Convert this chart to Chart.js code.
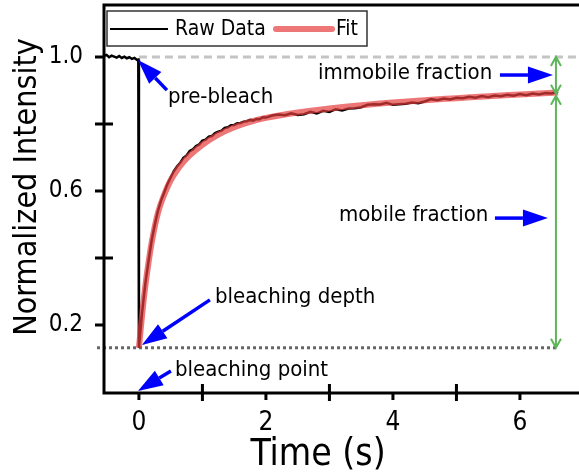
<!DOCTYPE html>
<html>
<head>
<meta charset="utf-8">
<script src="https://cdn.jsdelivr.net/npm/chart.js"></script>
<style>
  html, body { margin: 0; padding: 0; background: #fff; }
  canvas { display: block; }
</style>
</head>
<body>
<canvas id="frapChart" width="579" height="473"></canvas>
<script>
// FRAP recovery curve
const rawTime = [-0.55, -0.51, -0.47, -0.43, -0.39, -0.35, -0.31, -0.27, -0.23, -0.19, -0.15, -0.11, -0.07, -0.03, -0.01,
  0, 0.05, 0.1, 0.15, 0.2, 0.25, 0.3, 0.35, 0.4, 0.45, 0.5, 0.55, 0.6, 0.65, 0.7, 0.75, 0.8, 0.85, 0.9, 0.95,
  1.0, 1.05, 1.1, 1.15, 1.2, 1.25, 1.3, 1.35, 1.4, 1.45, 1.5, 1.55, 1.6, 1.65, 1.7, 1.75, 1.8, 1.85, 1.9, 1.95,
  2.0, 2.1, 2.2, 2.3, 2.4, 2.5, 2.6, 2.7, 2.8, 2.9, 3.0, 3.1, 3.2, 3.3, 3.4, 3.5, 3.6, 3.7, 3.8, 3.9,
  4.0, 4.1, 4.2, 4.3, 4.4, 4.5, 4.6, 4.7, 4.8, 4.9, 5.0, 5.1, 5.2, 5.3, 5.4, 5.5, 5.6, 5.7, 5.8, 5.9,
  6.0, 6.1, 6.2, 6.3, 6.4, 6.5, 6.6];
const rawIntensity = [1.003, 1.006, 0.999, 1.004, 1.001, 0.998, 1.003, 0.997, 1.001, 0.996, 0.999, 0.994, 0.997, 0.991, 0.992,
  0.132, 0.238, 0.322, 0.389, 0.452, 0.499, 0.541, 0.572, 0.596, 0.621, 0.640, 0.659, 0.673, 0.684, 0.699, 0.706, 0.719, 0.724, 0.734, 0.739,
  0.750, 0.753, 0.762, 0.764, 0.773, 0.777, 0.780, 0.788, 0.790, 0.796, 0.797, 0.802, 0.803, 0.807, 0.808, 0.812, 0.810, 0.815, 0.814, 0.820,
  0.819, 0.825, 0.828, 0.826, 0.832, 0.827, 0.829, 0.836, 0.831, 0.839, 0.836, 0.844, 0.840, 0.846, 0.847, 0.850, 0.857, 0.859, 0.858, 0.863,
  0.857, 0.859, 0.860, 0.864, 0.862, 0.867, 0.874, 0.871, 0.876, 0.873, 0.878, 0.877, 0.881, 0.878, 0.883, 0.880, 0.885, 0.883, 0.887, 0.884,
  0.889, 0.886, 0.891, 0.888, 0.892, 0.891, 0.897];

const fitTime = [0, 0.05, 0.1, 0.15, 0.2, 0.3, 0.4, 0.5, 0.6, 0.7, 0.8, 1.0, 1.25, 1.5, 1.75, 2.0, 2.5, 3.0, 3.5, 4.0, 4.5, 5.0, 5.5, 6.0, 6.6];
const fitIntensity = [0.132, 0.230, 0.315, 0.385, 0.445, 0.535, 0.590, 0.632, 0.662, 0.686, 0.706, 0.738, 0.768, 0.790, 0.806, 0.818, 0.834, 0.846, 0.856, 0.864, 0.871, 0.877, 0.883, 0.888, 0.894];

const xTicks = [0, 2, 4, 6];
const xMinorTicks = [1, 3, 5];
const yTicks = [0.2, 0.6, 1.0];
const yMinorTicks = [0.4, 0.8];

const preBleachLevel = 1.0;
const bleachLevel = 0.132;
const plateauLevel = 0.893;
const arrowTime = 6.567;

const FONT = '"DejaVu Sans Condensed", sans-serif';
const FIT_COLOR = 'rgba(230, 60, 60, 0.7)';
const BLUE = '#0000ff';
const GREEN = '#5db65a';

const notes = [
  { text: 'pre-bleach', x: 0.457, y: 0.881, from: [0.441, 0.901], to: [-0.016, 0.991] },
  { text: 'bleaching depth', x: 1.197, y: 0.284, from: [1.118, 0.275], to: [0.047, 0.140] },
  { text: 'bleaching point', x: 0.567, y: 0.066, from: [0.504, 0.063], to: [-0.016, 0.003] },
  { text: 'immobile fraction', x: 2.82, y: 0.952, from: [5.685, 0.946], to: [6.52, 0.946] },
  { text: 'mobile fraction', x: 3.15, y: 0.528, from: [5.606, 0.519], to: [6.441, 0.519] }
];

function blueArrow(ctx, x1, y1, x2, y2) {
  const a = Math.atan2(y2 - y1, x2 - x1);
  const len = 25, hw = 8.5;
  const bx = x2 - len * Math.cos(a), by = y2 - len * Math.sin(a);
  ctx.strokeStyle = BLUE;
  ctx.fillStyle = BLUE;
  ctx.lineWidth = 3.5;
  ctx.beginPath();
  ctx.moveTo(x1, y1);
  ctx.lineTo(bx, by);
  ctx.stroke();
  ctx.beginPath();
  ctx.moveTo(x2, y2);
  ctx.lineTo(bx + hw * Math.sin(a), by - hw * Math.cos(a));
  ctx.lineTo(bx - hw * Math.sin(a), by + hw * Math.cos(a));
  ctx.closePath();
  ctx.fill();
}

function greenDoubleArrow(ctx, x, yTop, yBot) {
  ctx.strokeStyle = GREEN;
  ctx.lineWidth = 2;
  ctx.beginPath();
  ctx.moveTo(x, yTop);
  ctx.lineTo(x, yBot);
  ctx.moveTo(x - 5, yTop + 9);
  ctx.lineTo(x, yTop);
  ctx.lineTo(x + 5, yTop + 9);
  ctx.moveTo(x - 5, yBot - 9);
  ctx.lineTo(x, yBot);
  ctx.lineTo(x + 5, yBot - 9);
  ctx.stroke();
}

const decorations = {
  id: 'decorations',
  beforeDatasetsDraw(chart) {
    const { ctx, chartArea, scales: { x, y } } = chart;
    ctx.save();
    // pre-bleach level
    ctx.strokeStyle = '#c4c4c4';
    ctx.lineWidth = 3;
    ctx.setLineDash([8, 5]);
    ctx.beginPath();
    ctx.moveTo(x.getPixelForValue(0), y.getPixelForValue(preBleachLevel));
    ctx.lineTo(chartArea.right, y.getPixelForValue(preBleachLevel));
    ctx.stroke();
    // bleaching point level
    ctx.strokeStyle = '#666';
    ctx.lineWidth = 3;
    ctx.setLineDash([3, 3]);
    ctx.beginPath();
    ctx.moveTo(x.getPixelForValue(-0.66), y.getPixelForValue(bleachLevel));
    ctx.lineTo(x.getPixelForValue(arrowTime), y.getPixelForValue(bleachLevel));
    ctx.stroke();
    ctx.restore();
  },
  afterDatasetsDraw(chart) {
    const { ctx, chartArea, scales: { x, y } } = chart;
    const { left, right, top, bottom } = chartArea;
    ctx.save();

    // frame and axes
    ctx.strokeStyle = '#000';
    ctx.lineWidth = 3;
    ctx.beginPath();
    ctx.moveTo(right, top - 1);
    ctx.lineTo(left, top - 1);
    ctx.lineTo(left, bottom + 1);
    ctx.lineTo(right, bottom + 1);
    ctx.stroke();

    // ticks
    ctx.beginPath();
    xTicks.forEach(v => {
      const px = x.getPixelForValue(v);
      ctx.moveTo(px, bottom);
      ctx.lineTo(px, bottom + 8);
    });
    xMinorTicks.forEach(v => {
      const px = x.getPixelForValue(v);
      ctx.moveTo(px, bottom - 8);
      ctx.lineTo(px, bottom + 9);
    });
    yTicks.forEach(v => {
      const py = y.getPixelForValue(v);
      ctx.moveTo(left - 9, py);
      ctx.lineTo(left, py);
    });
    yMinorTicks.forEach(v => {
      const py = y.getPixelForValue(v);
      ctx.moveTo(left - 9, py);
      ctx.lineTo(left + 9, py);
    });
    ctx.stroke();

    // legend
    const lx = left + 3, ly = top + 5;
    ctx.fillStyle = '#fff';
    ctx.fillRect(lx, ly, 260, 35);
    ctx.strokeStyle = '#333';
    ctx.lineWidth = 1.5;
    ctx.strokeRect(lx, ly, 260, 35);
    ctx.strokeStyle = '#000';
    ctx.lineWidth = 2;
    ctx.beginPath();
    ctx.moveTo(lx + 3, ly + 18);
    ctx.lineTo(lx + 61, ly + 18);
    ctx.stroke();
    ctx.strokeStyle = FIT_COLOR;
    ctx.lineWidth = 6;
    ctx.lineCap = 'round';
    ctx.beginPath();
    ctx.moveTo(lx + 169, ly + 18);
    ctx.lineTo(lx + 225, ly + 18);
    ctx.stroke();
    ctx.lineCap = 'butt';
    ctx.fillStyle = '#000';
    ctx.font = '21px ' + FONT;
    ctx.textBaseline = 'middle';
    ctx.textAlign = 'left';
    ctx.fillText('Raw Data', lx + 68, ly + 19);
    ctx.fillText('Fit', lx + 229, ly + 19);

    // green fraction arrows
    const ax = x.getPixelForValue(arrowTime);
    greenDoubleArrow(ctx, ax, y.getPixelForValue(preBleachLevel), y.getPixelForValue(plateauLevel) + 1);
    greenDoubleArrow(ctx, ax, y.getPixelForValue(plateauLevel) + 3, y.getPixelForValue(bleachLevel));

    // annotations
    ctx.font = '22px ' + FONT;
    notes.forEach(n => {
      blueArrow(ctx, x.getPixelForValue(n.from[0]), y.getPixelForValue(n.from[1]),
        x.getPixelForValue(n.to[0]), y.getPixelForValue(n.to[1]));
      ctx.fillStyle = '#000';
      ctx.textBaseline = 'middle';
      ctx.fillText(n.text, x.getPixelForValue(n.x), y.getPixelForValue(n.y));
    });

    // axis titles
    ctx.fillStyle = '#000';
    ctx.textAlign = 'center';
    ctx.font = '37px ' + FONT;
    ctx.fillText('Time (s)', 318, 455);
    ctx.translate(28, 187);
    ctx.rotate(-Math.PI / 2);
    ctx.font = '32px ' + FONT;
    ctx.fillText('Normalized Intensity', 0, 0);
    ctx.restore();
  }
};

new Chart(document.getElementById('frapChart'), {
  type: 'scatter',
  data: {
    datasets: [
      {
        label: 'Fit',
        data: fitTime.map((t, i) => ({ x: t, y: fitIntensity[i] })),
        showLine: true,
        borderColor: FIT_COLOR,
        borderWidth: 6,
        pointRadius: 0,
        cubicInterpolationMode: 'monotone',
        order: 1
      },
      {
        label: 'Raw Data',
        data: rawTime.map((t, i) => ({ x: t, y: rawIntensity[i] })),
        showLine: true,
        borderColor: '#000',
        borderWidth: 2.5,
        pointRadius: 0,
        order: 2
      }
    ]
  },
  options: {
    responsive: false,
    animation: false,
    devicePixelRatio: 1,
    layout: { padding: { top: 6, left: 0, right: 0, bottom: 0 } },
    plugins: { legend: { display: false }, tooltip: { enabled: false } },
    scales: {
      x: {
        type: 'linear',
        min: -0.55,
        max: 6.93,
        grid: { display: false, drawTicks: false, tickLength: 0 },
        border: { display: false },
        afterBuildTicks: s => { s.ticks = xTicks.map(v => ({ value: v })); },
        afterFit: s => { s.height = 81; s.paddingLeft = 0; s.paddingRight = 0; },
        ticks: {
          color: '#000',
          font: { family: FONT, size: 26 },
          padding: 16,
          maxRotation: 0,
          autoSkip: false,
          callback: v => String(v)
        }
      },
      y: {
        min: 0,
        max: 1.152,
        grid: { display: false, drawTicks: false, tickLength: 0 },
        border: { display: false },
        afterBuildTicks: s => { s.ticks = yTicks.map(v => ({ value: v })); },
        afterFit: s => { s.width = 104; s.paddingTop = 0; s.paddingBottom = 0; },
        ticks: {
          color: '#000',
          font: { family: FONT, size: 24 },
          padding: 21,
          autoSkip: false,
          callback: v => v.toFixed(1)
        }
      }
    }
  },
  plugins: [decorations]
});
</script>
</body>
</html>
